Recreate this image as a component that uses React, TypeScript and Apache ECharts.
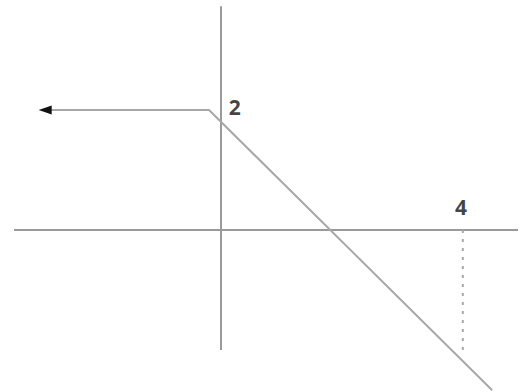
import React, { useEffect, useRef } from "react";
import * as echarts from "echarts";

// Axis extents (data units: 1 unit ≈ 60 px, origin at the axes' crossing)
const horizontalAxisX: number[] = [-3.45, 4.95];
const verticalAxisY: number[] = [3.73, -2.0];

// The kinked line: horizontal at y = 2, then falling
const curveX: number[] = [-2.93, -0.2, 4.52];
const curveY: number[] = [2, 2, -2.67];

// Dotted drop line at x = 4
const dropX: number = 4.03;
const dropY: number[] = [0, -2.0];

// Labels
const labelTexts: string[] = ["2", "4"];
const labelX: number[] = [0.23, 4.0];
const labelY: number[] = [2.05, 0.38];

const X_MIN = -221 / 60;
const X_MAX = 305 / 60;
const Y_MIN = -162 / 60;
const Y_MAX = 230 / 60;

export default function App() {
  const ref = useRef<HTMLDivElement>(null);
  useEffect(() => {
    if (!ref.current) return;
    const chart = echarts.init(ref.current, undefined, { renderer: "svg" });
    const axisStyle = { color: "#9a9a9a", width: 2 };
    chart.setOption({
      animation: false,
      backgroundColor: "#ffffff",
      grid: { left: 0, right: 0, top: 0, bottom: 0 },
      xAxis: { type: "value", min: X_MIN, max: X_MAX, show: false },
      yAxis: { type: "value", min: Y_MIN, max: Y_MAX, show: false },
      series: [
        {
          type: "line",
          data: horizontalAxisX.map((x) => [x, 0]),
          symbol: "none",
          lineStyle: axisStyle,
          silent: true,
        },
        {
          type: "line",
          data: verticalAxisY.map((y) => [0, y]),
          symbol: "none",
          lineStyle: axisStyle,
          silent: true,
        },
        {
          type: "line",
          data: dropY.map((y) => [dropX, y]),
          symbol: "none",
          lineStyle: { color: "#a8a8a8", width: 2, type: [3, 6] },
          silent: true,
        },
        {
          type: "line",
          data: curveX.map((x, i) =>
            i === 0
              ? {
                  value: [x, curveY[i]],
                  symbol: "triangle",
                  symbolSize: [9, 13],
                  symbolRotate: 90,
                  itemStyle: { color: "#111111" },
                }
              : { value: [x, curveY[i]], symbol: "none" }
          ),
          showSymbol: true,
          lineStyle: { color: "#a8a8a8", width: 2 },
          silent: true,
        },
        {
          type: "scatter",
          symbolSize: 0,
          data: labelTexts.map((t, i) => [labelX[i], labelY[i], t]),
          label: {
            show: true,
            position: "inside",
            formatter: (p: any) => p.value[2],
            fontFamily: "Open Sans",
            fontWeight: "bold",
            fontSize: 21,
            color: "#111111",
          },
          silent: true,
        },
      ],
    });
    return () => chart.dispose();
  }, []);
  return (
    <div
      ref={ref}
      style={{ position: "fixed", left: 0, top: 0, width: 526, height: 392 }}
    />
  );
}
